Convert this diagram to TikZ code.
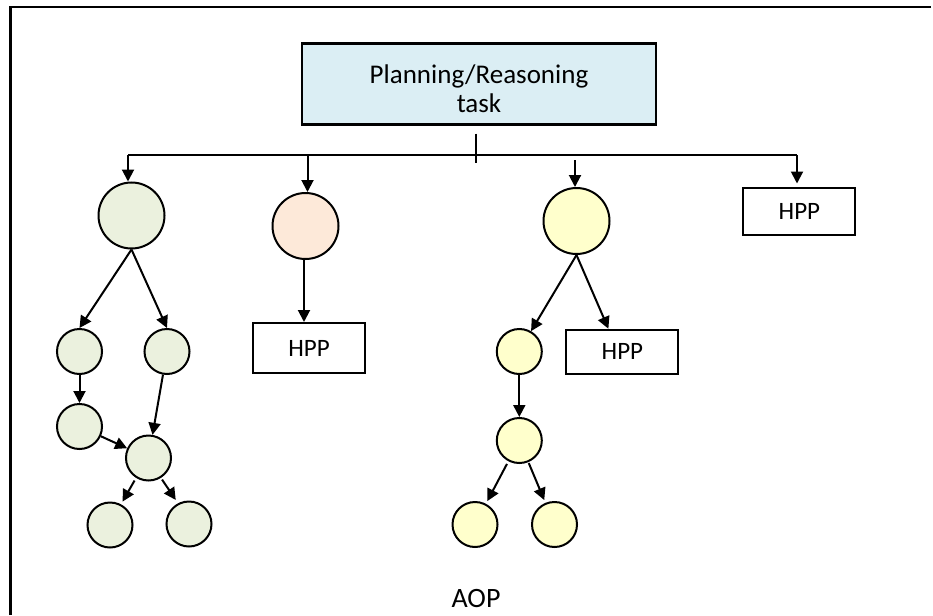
\documentclass[tikz,border=0pt]{standalone}
\usepackage{fontspec}
\setmainfont{Carlito}
\usetikzlibrary{arrows.meta,calc}

\definecolor{taskblue}{RGB}{219,238,244}
\definecolor{leafgreen}{RGB}{235,241,222}
\definecolor{peach}{RGB}{253,233,217}
\definecolor{paleyellow}{RGB}{255,255,204}

\tikzset{
  conn/.style={line width=2pt, draw=black},
  arr/.style={conn, -{Triangle[length=12pt,width=12pt]}},
  bigball/.style={circle, draw=black, line width=2pt, minimum size=66pt, inner sep=0pt},
  ball/.style={circle, draw=black, line width=2pt, minimum size=45pt, inner sep=0pt},
  hppbox/.style={rectangle, draw=black, line width=2pt, inner sep=0pt,
    font=\fontsize{25}{30}\selectfont},
  taskbox/.style={rectangle, draw=black, line width=2.2pt, fill=taskblue, inner sep=0pt,
    minimum width=354pt, minimum height=81pt,
    font=\fontsize{27}{29}\selectfont},
}

\begin{document}
\begin{tikzpicture}[x=1pt,y=-1pt]
\useasboundingbox (0,0) rectangle (933,615);

% outer frame: left and top sides only
\draw[line width=2.4pt, line cap=butt] (10.3,615) -- (10.3,7) -- (931,7);

% root task
\node[taskbox] (task) at (479,84)
  {\parbox{340pt}{\centering\vspace*{9pt}Planning/Reasoning\\task}};

% distribution bus
\coordinate (busL) at (128,155);
\coordinate (busR) at (797,155);
\coordinate (busP) at (307.5,155);
\coordinate (busY) at (575,160);
\draw[conn] ([xshift=-3pt,yshift=-8pt]task.south) -- ([xshift=-3pt,yshift=-8pt]task.south |- busL);
\draw[conn] (busL) -- (busR);

% first branch: green tree
\node[bigball, fill=leafgreen] (g0) at (131.5,215.5) {};
\node[ball, fill=leafgreen] (g1) at (79.5,351.5) {};
\node[ball, fill=leafgreen] (g2) at (167,351.5) {};
\node[ball, fill=leafgreen] (g3) at (79.5,426.5) {};
\node[ball, fill=leafgreen] (g4) at (148.5,458) {};
\node[ball, fill=leafgreen] (g5) at (110,525) {};
\node[ball, fill=leafgreen] (g6) at (189,524) {};

% second branch: single node with HPP
\node[bigball, fill=peach] (p0) at (305.5,226) {};
\node[hppbox, minimum width=112pt, minimum height=50pt] (hppA) at (309,348) {HPP};

% third branch: yellow tree
\node[bigball, fill=paleyellow] (y0) at (576.5,221) {};
\node[ball, fill=paleyellow] (y1) at (519.3,351.5) {};
\node[hppbox, minimum width=112pt, minimum height=44pt] (hppB) at (622.4,351.7) {HPP};
\node[ball, fill=paleyellow] (y2) at (519.3,440.5) {};
\node[ball, fill=paleyellow] (y3) at (475,524.5) {};
\node[ball, fill=paleyellow] (y4) at (554.5,524.5) {};

% fourth branch: HPP directly
\node[hppbox, minimum width=112pt, minimum height=47pt] (hppC) at (799.4,211) {HPP};

% bus drops
\draw[arr] (busL) -- (busL |- g0.north);
\draw[arr] (busP) -- (busP |- p0.north);
\draw[arr] (busY) -- (busY |- y0.north);
\draw[arr, shorten >=3pt] (busR) -- (busR |- hppC.north);

% green tree edges
\draw[arr] (g0.south) -- (g1.north);
\draw[arr] (g0.south) -- (g2.north);
\draw[arr] (g1) -- (g3);
\draw[arr] (g2) -- (g4);
\draw[arr] (g3) -- (g4);
\draw[arr, shorten <=3pt, shorten >=3pt] (g4.238) -- (g5.62);
\draw[arr, shorten <=2pt, shorten >=4pt] (g4.-58) -- (g6.118);

% peach edge
\draw[arr] (p0.south -| hppA.north) ++(-5,0) coordinate (pS) -- (pS |- hppA.north);

% yellow tree edges
\draw[arr] (y0.south) -- (y1.60);
\draw[arr] (y0.south) -- ([xshift=-14pt]hppB.north);
\draw[arr] (y1) -- (y2);
\draw[arr, shorten <=3pt, shorten >=3pt] (y2) -- (y3);
\draw[arr, shorten <=1pt, shorten >=3pt] (y2) -- (y4);

% caption
\node[font=\fontsize{28}{30}\selectfont] (aop) at (476,599) {AOP};
\end{tikzpicture}
\end{document}
